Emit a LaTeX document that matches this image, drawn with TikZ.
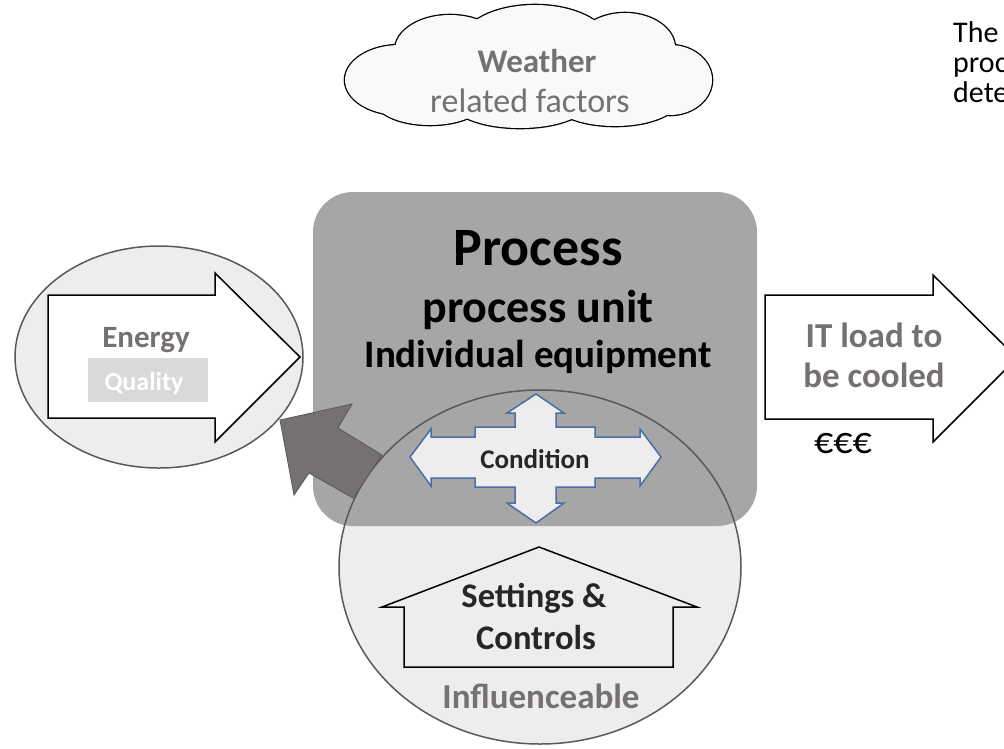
\documentclass[tikz,border=0pt]{standalone}
\usepackage{fontspec}
\setmainfont{Carlito}
\definecolor{txtgray}{HTML}{767171}
\definecolor{procgray}{HTML}{A6A6A6}
\definecolor{lightfill}{HTML}{EDEDED}
\definecolor{edgegray}{HTML}{595959}
\definecolor{darkarrow}{HTML}{767171}
\definecolor{condblue}{HTML}{4A6EA8}
\definecolor{cloudfill}{HTML}{F8F9FB}
\definecolor{qualfill}{HTML}{D9D9D9}
\definecolor{darktxt}{HTML}{262626}
\begin{document}
\begin{tikzpicture}[x=1pt,y=-1pt,
  lbl/.style={inner sep=0pt, anchor=base},
  bsz/.style={font=\fontsize{#1}{#1}\selectfont\bfseries},
  rsz/.style={font=\fontsize{#1}{#1}\selectfont},
  outlined/.style={draw=black, line width=1.5pt, line join=miter},
  ring/.style={draw=edgegray, line width=1.5pt}]
\useasboundingbox (0,0) rectangle (1004,748);

% cloud: union of puffs (outline drawn wide, then interiors refilled)
\def\puffs{400/80/55/35, 450/50/55/35, 535/45/75/40, 625/48/50/35, 670/80/42/35, 615/98/65/28, 520/100/70/28, 430/100/55/25}
\foreach \cx/\cy/\rx/\ry in \puffs
  \draw[black, line width=2.6pt] (\cx,\cy) ellipse [x radius=\rx pt, y radius=\ry pt];
\foreach \cx/\cy/\rx/\ry in \puffs
  \fill[cloudfill] (\cx,\cy) ellipse [x radius=\rx pt, y radius=\ry pt];
\fill[cloudfill] (530,75) ellipse [x radius=150pt, y radius=40pt];
\node[lbl, bsz=33, text=txtgray] (weather) at (537,72) {Weather};
\node[lbl, rsz=34, text=txtgray] (related) at (530,112) {related factors};

% top right text
\node[lbl, anchor=base west, rsz=30] (t1) at (953,42) {The};
\node[lbl, anchor=base west, rsz=30] (t2) at (953,72) {proc};
\node[lbl, anchor=base west, rsz=30] (t3) at (953,102) {dete};

% bottom ellipse fill, process box, ellipse outline
\fill[lightfill] (540,567) ellipse [x radius=201pt, y radius=177pt];
\fill[procgray, rounded corners=40pt] (313,192) rectangle (757,526);
\draw[ring] (540,567) ellipse [x radius=201pt, y radius=177pt];

\node[lbl, bsz=54] (proc) at (538,265) {Process};
\node[lbl, bsz=46] (unit) at (538,322) {process unit};
\node[lbl, bsz=39] (equip) at (538,367) {Individual equipment};

% left ellipse with energy arrow
\filldraw[fill=lightfill, ring] (159,357) ellipse [x radius=144pt, y radius=111pt];
\filldraw[fill=white, outlined] (48,295) -- (215,295) -- (215,273) -- (300,357) -- (215,442) -- (215,418) -- (48,418) -- cycle;
\fill[qualfill] (88,358) rectangle (208,402);
\node[lbl, bsz=31, text=txtgray] (energy) at (146,347) {Energy};
\node[lbl, bsz=26, text=white] (quality) at (144,390) {Quality};

% dark arrow
\filldraw[fill=darkarrow, draw=edgegray, line width=0.8pt] (280,420) -- (352,404) -- (338,428) -- (382,455) -- (353,498) -- (309,473) -- (294,495) -- cycle;

% condition quad arrow
\filldraw[fill=lightfill, draw=condblue, line width=1.5pt]
 (536,394) -- (564,413) -- (556,413) -- (556,427) -- (595,427) -- (595,437) -- (640,437) -- (640,429) -- (661,457)
 -- (640,486) -- (640,478) -- (595,478) -- (595,487) -- (556,487) -- (556,503) -- (564,503) -- (536,523)
 -- (507,503) -- (515,503) -- (515,487) -- (475,487) -- (475,478) -- (431,478) -- (431,486) -- (410,457)
 -- (431,429) -- (431,437) -- (475,437) -- (475,427) -- (515,427) -- (515,413) -- (507,413) -- cycle;
\node[lbl, bsz=27, text=darktxt] (cond) at (535,468) {Condition};

% settings house
\filldraw[fill=lightfill, outlined] (539,547) -- (697,607) -- (673,607) -- (673,667) -- (404,667) -- (404,607) -- (382,607) -- cycle;
\node[lbl, bsz=34.5, text=darktxt] (settings) at (534,607) {Settings \&};
\node[lbl, bsz=34.5, text=darktxt] (controls) at (536,649) {Controls};
\node[lbl, bsz=35, text=txtgray] (infl) at (541,708) {Influenceable};

% IT load arrow
\filldraw[fill=white, outlined] (765,295) -- (933,295) -- (933,275) -- (1017,358) -- (933,442) -- (933,419) -- (765,419) -- cycle;
\node[lbl, bsz=35, text=txtgray] (it1) at (874,347) {IT load to};
\node[lbl, bsz=35, text=txtgray] (it2) at (874,387) {be cooled};
\node[lbl, rsz=38] (euro) at (843,453) {€€€};
\end{tikzpicture}
\end{document}
